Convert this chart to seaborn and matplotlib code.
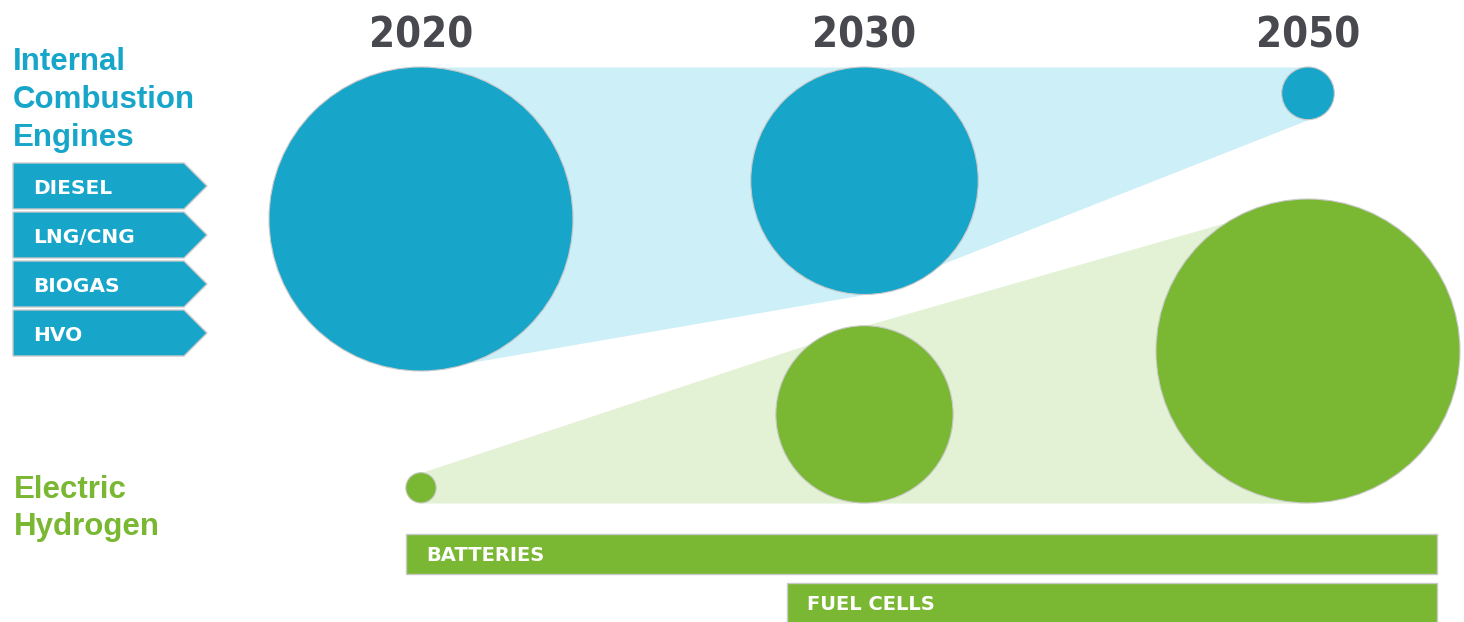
import numpy as np
import pandas as pd
import matplotlib.pyplot as plt
import seaborn as sns
from matplotlib import font_manager
from matplotlib.patches import Polygon
from matplotlib.transforms import Affine2D

# data
years = ['2020', '2030', '2050']
ice_share = [100, 56, 3]          # relative bubble area (combustion engines)
electric_share = [1, 34, 100]     # relative bubble area (electric / hydrogen)
ice_fuels = ['DIESEL', 'LNG/CNG', 'BIOGAS', 'HVO']
electric_techs = ['BATTERIES', 'FUEL CELLS']
tech_start = [-0.034, 0.825]      # in year-slot units (0 = 2020, 2 = 2050)
tech_end = [2.291, 2.291]

# colours
BLUE = '#17a6c9'
LIGHT_BLUE = '#cceff8'
GREEN = '#7ab733'
LIGHT_GREEN = '#e3f1d5'
YEAR_GREY = '#48484f'
EDGE = '#c9c9c9'

# layout (pixels)
W, H, DPI = 1464, 622, 100
X0, STEP = 421, 443.5
R_MAX = 152
TOP_LINE = 67
BASE_LINE = 503


def narrow_bold_font():
    # look for the most condensed bold face that is installed
    rank = {'ultra-condensed': 0, 'extra-condensed': 0, 'condensed': 1, 'semi-condensed': 2}
    best = None
    for f in font_manager.fontManager.ttflist:
        stretch = f.stretch if isinstance(f.stretch, str) else 'normal'
        r = rank.get(stretch)
        low = f.name.lower()
        if r is None:
            if 'extracondensed' in low.replace(' ', ''):
                r = 0
            elif 'semicondensed' in low.replace(' ', ''):
                r = 2
            elif 'condensed' in low or 'narrow' in low:
                r = 1
        if r is None or f.style != 'normal':
            continue
        try:
            w = int(f.weight)
        except (TypeError, ValueError):
            w = 700 if 'bold' in str(f.weight) else 400
        if not 600 <= w <= 800:
            continue
        key = (r, abs(w - 700))
        if best is None or key < best[0]:
            best = (key, f.fname)
    if best is None:
        return font_manager.FontProperties(family='DejaVu Sans', weight='bold', size=27)
    return font_manager.FontProperties(fname=best[1], size=30)


sns.set_theme(style='white')
plt.rcParams['font.family'] = ['Liberation Sans', 'DejaVu Sans']

fig = plt.figure(figsize=(W / DPI, H / DPI), dpi=DPI)
ax = fig.add_axes([0, 0, 1, 1])
px = Affine2D().scale(1 / DPI, -1 / DPI).translate(0, H / DPI) + fig.dpi_scale_trans

# bubble radii in pixels (area proportional to share)
r_ice = R_MAX * np.sqrt(np.array(ice_share) / 100)
r_el = R_MAX * np.sqrt(np.array(electric_share) / 100)
xs = np.arange(len(years))

df = pd.DataFrame({
    'x': np.concatenate([xs, xs]),
    'y': np.concatenate([TOP_LINE + r_ice, BASE_LINE - r_el]),
    'share': ice_share + electric_share,
    'group': ['ice'] * len(years) + ['electric'] * len(years),
})

# shaded bands joining the bubbles
ax.fill_between(xs, TOP_LINE, TOP_LINE + 2 * r_ice, color=LIGHT_BLUE, lw=0, zorder=1)
ax.fill_between(xs, BASE_LINE - 2 * r_el, BASE_LINE, color=LIGHT_GREEN, lw=0, zorder=1)

smax = (2 * R_MAX * 72 / DPI) ** 2
sns.scatterplot(data=df, x='x', y='y', hue='group', size='share',
                sizes=(0, smax), size_norm=(0, 100),
                palette={'ice': BLUE, 'electric': GREEN},
                edgecolor=EDGE, linewidth=0.8, legend=False, ax=ax, zorder=3)

# technology bars
bar_y = [554 + 49 * k for k in range(len(electric_techs))]
ax.barh(bar_y, np.array(tech_end) - np.array(tech_start), left=tech_start,
        height=40, color=GREEN, edgecolor=EDGE, linewidth=1, zorder=2)
for label, start, y in zip(electric_techs, tech_start, bar_y):
    ax.annotate(label, (start, y), xytext=(14.4, -5.2), textcoords='offset points',
                color='white', fontsize=14, fontweight='bold', va='baseline', ha='left',
                family=['DejaVu Sans'])

# year headers
year_font = narrow_bold_font()
for i, yr in enumerate(years):
    ax.text(i, 47, yr, ha='center', va='baseline', color=YEAR_GREY,
            fontproperties=year_font)

# left panel: combustion engines
for line, base in zip(['Internal', 'Combustion', 'Engines'], [70, 108, 146]):
    ax.text(13, base, line, transform=px, color=BLUE, fontsize=22.5,
            fontweight='bold', va='baseline', ha='left')

for k, fuel in enumerate(ice_fuels):
    top = 163 + 49 * k
    bot = top + 46
    mid = (top + bot) / 2
    tag = Polygon([(13, top), (184, top), (207, mid), (184, bot), (13, bot)],
                  closed=True, transform=px, facecolor=BLUE, edgecolor=EDGE, lw=1)
    ax.add_patch(tag)
    ax.text(33, mid + 8, fuel, transform=px, color='white', fontsize=14.5,
            fontweight='bold', va='baseline', ha='left', family=['DejaVu Sans'])

# left panel: electric / hydrogen
for line, base in zip(['Electric', 'Hydrogen'], [498, 535]):
    ax.text(14, base, line, transform=px, color=GREEN, fontsize=22.5,
            fontweight='bold', va='baseline', ha='left')

ax.set_xlim(-X0 / STEP, (W - X0) / STEP)
ax.set_ylim(H, 0)
ax.axis('off')

fig.savefig('out.png', dpi=DPI, facecolor='white')
